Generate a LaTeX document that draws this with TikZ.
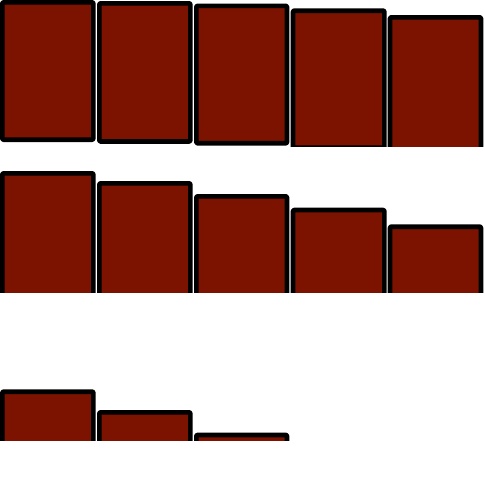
\documentclass[tikz,border=0pt]{standalone}
\definecolor{boxred}{RGB}{123,19,0}
\tikzset{
  squashbox/.style={draw=black, fill=boxred, line width=4.7pt, rounded corners=1pt, line join=round}
}
\newcommand\cellbox[5]{%
  \begin{scope}
    \clip (#1-1,#2-1) rectangle (#3+1,#5);
    \draw[squashbox] (#1+2.35,#2+2.35) rectangle (#3-2.35,#4-2.35);
  \end{scope}}
\begin{document}
\begin{tikzpicture}[x=1pt,y=-1pt]
  \useasboundingbox[fill=white] (0,0) rectangle (485,485);
  % row 1
  \cellbox{0}{0}{95.7}{142}{146}
  \cellbox{97}{1}{192.7}{143.8}{146}
  \cellbox{194}{3.5}{289.3}{145.6}{146}
  \cellbox{290.7}{8.3}{386.7}{150}{146}
  \cellbox{387.7}{15}{483.3}{152}{146}
  % row 2
  \cellbox{0}{171}{95.7}{300}{292.5}
  \cellbox{97}{181}{192.7}{300}{292.5}
  \cellbox{194}{194}{289.3}{300}{292.5}
  \cellbox{290.7}{207.7}{386.7}{300}{292.5}
  \cellbox{387.7}{224.3}{483.3}{300}{292.5}
  % row 3
  \cellbox{0}{389.3}{95.7}{450}{440.5}
  \cellbox{97}{410}{192.7}{450}{440.5}
  \cellbox{194}{432.6}{289.3}{450}{440.5}
\end{tikzpicture}
\end{document}
